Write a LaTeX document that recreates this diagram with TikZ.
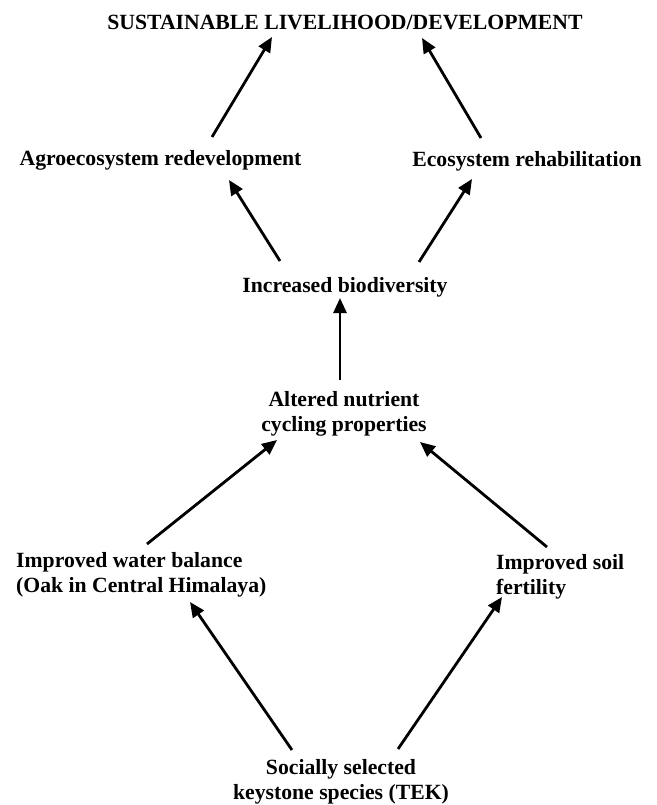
\documentclass[tikz,border=0pt]{standalone}
\usepackage{fontspec}
\setmainfont{Liberation Serif}
\usetikzlibrary{arrows.meta,calc}
\begin{document}
\begin{tikzpicture}[x=1pt,y=-1pt,
  lbl/.style={inner sep=0pt,font=\fontsize{21.7}{25}\selectfont\bfseries},
  conn/.style={line width=2.8pt,-{Triangle[length=15pt,width=13pt]}}]
\useasboundingbox (0,0) rectangle (656,805);
\node[lbl,anchor=base] (title) at (345,30) {SUSTAINABLE LIVELIHOOD/DEVELOPMENT};
\node[lbl,anchor=base] (agro) at (160.5,166) {Agroecosystem redevelopment};
\node[lbl,anchor=base] (eco) at (527,167) {Ecosystem rehabilitation};
\node[lbl,anchor=base] (incr) at (345,292) {Increased biodiversity};
\node[lbl,anchor=base] (alt) at (344,406) {\begin{tabular}[t]{@{}c@{}}Altered nutrient\\cycling properties\end{tabular}};
\node[lbl,anchor=base west] (water) at (16,567) {\begin{tabular}[t]{@{}l@{}}Improved water balance\\(Oak in Central Himalaya)\end{tabular}};
\node[lbl,anchor=base west] (soil) at (496,569) {\begin{tabular}[t]{@{}l@{}}Improved soil\\fertility\end{tabular}};
\node[lbl,anchor=base] (soc) at (341,774) {\begin{tabular}[t]{@{}c@{}}Socially selected\\keystone species (TEK)\end{tabular}};

\draw[conn] ($(agro.base)+(51.5,-29)$) -- ($(title.base)+(-73,7)$);
\draw[conn] ($(eco.base)+(-46,-29)$) -- ($(title.base)+(77,8)$);
\draw[conn] ($(incr.base)+(-65,-31)$) -- ($(agro.base)+(68.5,14)$);
\draw[conn] ($(incr.base)+(74,-30)$) -- ($(eco.base)+(-55,12)$);
\draw[conn] ($(alt.base)+(-4,-26)$) -- ($(incr.base)+(-5,6)$);
\draw[conn] ($(water.base west)+(131,-23)$) -- ($(alt.base)+(-67,34)$);
\draw[conn] ($(soil.base west)+(51,-22)$) -- ($(alt.base)+(76,36)$);
\draw[conn] ($(soc.base)+(-49,-24)$) -- ($(water.base west)+(174,35)$);
\draw[conn] ($(soc.base)+(57,-25)$) -- ($(soil.base west)+(6,28)$);
\end{tikzpicture}
\end{document}
